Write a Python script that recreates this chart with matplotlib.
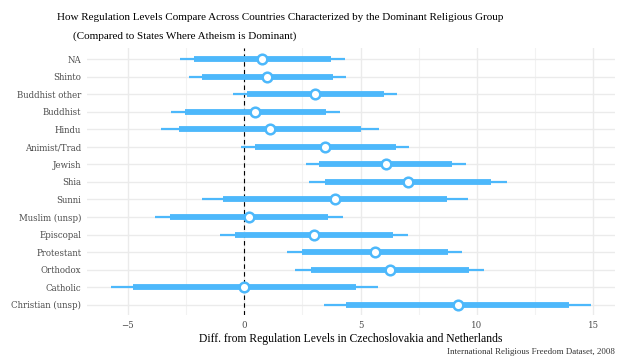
import matplotlib.pyplot as plt
import numpy as np

# dominant religious group, top to bottom as drawn
groups = ["NA", "Shinto", "Buddhist other", "Buddhist", "Hindu", "Animist/Trad",
          "Jewish", "Shia", "Sunni", "Muslim (unsp)", "Episcopal", "Protestant",
          "Orthodox", "Catholic", "Christian (unsp)"]

# point estimate and intervals (outer = thin line, inner = thick line)
estimate = [0.77, 0.98, 3.04, 0.47, 1.12, 3.47, 6.09, 7.02, 3.88, 0.20, 2.98, 5.60, 6.25, 0.00, 9.17]
inner_lo = [-2.17, -1.83, 0.10, -2.55, -2.79, 0.45, 3.22, 3.47, -0.90, -3.18, -0.39, 2.47, 2.87, -4.80, 4.37]
inner_hi = [3.73, 3.81, 6.00, 3.51, 5.03, 6.52, 8.95, 10.62, 8.70, 3.60, 6.38, 8.74, 9.66, 4.80, 13.97]
outer_lo = [-2.75, -2.38, -0.47, -3.14, -3.57, -0.14, 2.66, 2.77, -1.83, -3.84, -1.06, 1.85, 2.19, -5.73, 3.43]
outer_hi = [4.31, 4.36, 6.56, 4.10, 5.77, 7.09, 9.51, 11.30, 9.63, 4.26, 7.03, 9.36, 10.30, 5.73, 14.90]

blue = "#4db8fb"
serif = "DejaVu Serif"
serif2 = "Liberation Serif"

fig = plt.figure(figsize=(6.23, 3.64), dpi=100)
ax = fig.add_axes([0.1396, 0.134, 0.8474, 0.7328])

y = np.arange(len(groups))[::-1]

ax.hlines(y, outer_lo, outer_hi, color=blue, lw=1.6, zorder=3)
ax.hlines(y, inner_lo, inner_hi, color=blue, lw=4.2, zorder=4)
ax.scatter(estimate, y, s=48, facecolor="white", edgecolor=blue, linewidth=1.8, zorder=5)
ax.axvline(0, color="black", lw=0.8, ls=(0, (4, 3)), zorder=2)

ax.set_xlim(-6.76, 15.93)
ax.set_ylim(-0.6, len(groups) - 0.4)
ax.set_yticks(y)
ax.set_yticklabels(groups, fontsize=6.2, color="#4d4d4d", family=serif)
ax.set_xticks([-5, 0, 5, 10, 15])
ax.set_xticklabels(["\u22125", "0", "5", "10", "15"], fontsize=6.2, color="#4d4d4d", family=serif)
ax.set_xticks([-2.5, 2.5, 7.5, 12.5], minor=True)
ax.tick_params(length=0, which="both", pad=4)

ax.grid(True, which="major", color="#ebebeb", lw=1.0, zorder=0)
ax.grid(True, which="minor", axis="x", color="#f2f2f2", lw=0.8, zorder=0)
ax.set_axisbelow(True)
for s in ax.spines.values():
    s.set_visible(False)

ax.set_xlabel("Diff. from Regulation Levels in Czechoslovakia and Netherlands",
              fontsize=8.4, family=serif2, labelpad=2)

fig.text(0.092, 0.953, "How Regulation Levels Compare Across Countries Characterized by the Dominant Religious Group",
         fontsize=8.0, family=serif2, ha="left", va="center")
fig.text(0.117, 0.901, "(Compared to States Where Atheism is Dominant)",
         fontsize=8.0, family=serif2, ha="left", va="center")
fig.text(0.987, 0.032, "International Religious Freedom Dataset, 2008",
         fontsize=6.4, family=serif2, ha="right", va="center", color="#333333")

fig.savefig("out.png", dpi=100)
